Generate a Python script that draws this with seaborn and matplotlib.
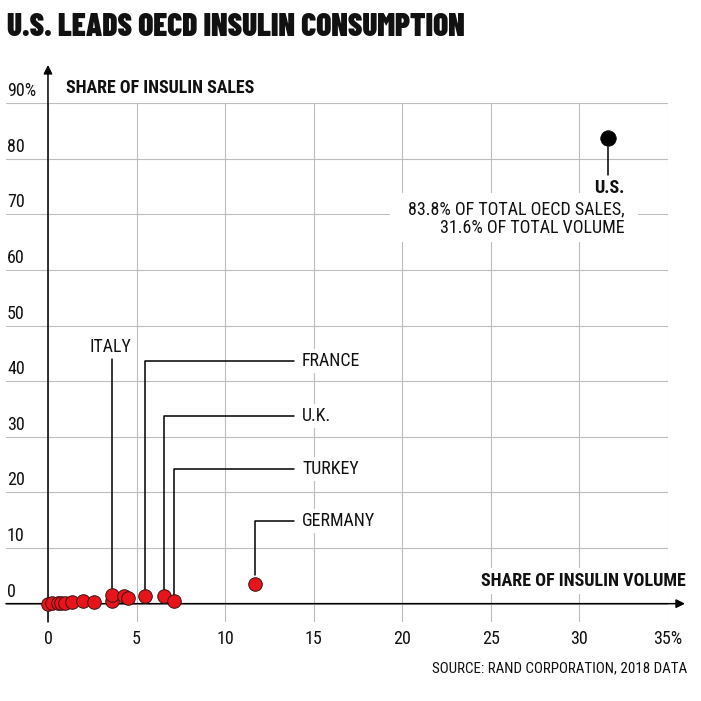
import matplotlib
matplotlib.use("Agg")
import matplotlib.pyplot as plt
from matplotlib.patches import Rectangle
import seaborn as sns
import pandas as pd

# share of OECD insulin volume (%) and share of sales (%) per country
volume = [0.0, 0.25, 0.55, 0.75, 0.95, 1.35, 2.0, 2.6, 3.6, 3.6, 4.3, 4.5, 5.5, 6.55, 7.1, 11.7]
sales = [0.0, 0.05, 0.1, 0.15, 0.2, 0.25, 0.4, 0.35, 0.4, 1.55, 1.3, 1.0, 1.3, 1.3, 0.5, 3.5]
us_volume = [31.6]
us_sales = [83.8]

labelled = ["ITALY", "FRANCE", "U.K.", "TURKEY", "GERMANY"]
labelled_idx = [9, 12, 13, 14, 15]

xticks = [0, 5, 10, 15, 20, 25, 30, 35]
xticklabels = ["0", "5", "10", "15", "20", "25", "30", "35%"]
yticks = [0, 10, 20, 30, 40, 50, 60, 70, 80, 90]
yticklabels = ["0", "10", "20", "30", "40", "50", "60", "70", "80", "90%"]

sns.set_theme(style="white")
plt.rcParams["font.family"] = ["Roboto Condensed", "DejaVu Sans"]

df = pd.DataFrame({"volume": volume, "sales": sales})
us = pd.DataFrame({"volume": us_volume, "sales": us_sales})

fig = plt.figure(figsize=(7.01, 7.01), dpi=100)
ax = fig.add_axes([6 / 701, 79 / 701, 662 / 701, 518.7 / 701])

ink = "#111111"
red = "#e8141b"
sns.scatterplot(data=df, x="volume", y="sales", color=red, s=95, edgecolor="#3a1212",
                linewidth=0.7, ax=ax, zorder=4, clip_on=False)
sns.scatterplot(data=us, x="volume", y="sales", color="black", s=125, edgecolor="black",
                linewidth=0.5, ax=ax, zorder=4, clip_on=False)

ax.set_xlim(-2.37, 35)
ax.set_ylim(-3.3, 90)
ax.set_xticks(xticks)
ax.set_xticklabels(xticklabels, fontsize=13, color=ink)
ax.set_yticks(yticks)
ax.tick_params(axis="x", length=0, pad=6)
ax.tick_params(axis="y", length=0, labelleft=False)
ax.grid(True, color="#bdbdbd", lw=0.8)
for s in ax.spines.values():
    s.set_visible(False)
ax.set_xlabel("")
ax.set_ylabel("")

for v, lab in zip(yticks, yticklabels):
    ax.annotate(lab, xy=(0, v), xycoords=("axes fraction", "data"), xytext=(1, 7),
                textcoords="offset pixels", ha="left", va="baseline", fontsize=13,
                color=ink, annotation_clip=False)

# axis arrows
arrow = dict(arrowstyle="-|>", color="black", lw=1.1, mutation_scale=13, shrinkA=0, shrinkB=0)
ax.annotate("", xy=(35.96, 0), xytext=(-2.37, 0), annotation_clip=False, zorder=3,
            arrowprops=arrow)
ax.annotate("", xy=(0, 96.9), xytext=(0, -3.3), annotation_clip=False, zorder=3,
            arrowprops=arrow)

ax.text(1.02, 92.8, "SHARE OF INSULIN SALES", fontsize=12.9, fontweight="bold", va="center",
        ha="left", color=ink)
ax.text(36.0, 4.1, "SHARE OF INSULIN VOLUME", fontsize=13, fontweight="bold", va="center",
        ha="right", color=ink, zorder=3,
        bbox=dict(facecolor="white", edgecolor="none", pad=3))
ax.text(36.1, -11.6, "SOURCE: RAND CORPORATION, 2018 DATA", fontsize=10.8, va="center",
        ha="right", color=ink)

# leader lines for the labelled countries
line_top = [44.0, 43.6, 33.7, 24.2, 14.9]
text_x = 14.34
line_end = 13.9
for name, i, top in zip(labelled, labelled_idx, line_top):
    px, py = volume[i], sales[i]
    if name == "ITALY":
        ax.plot([px, px], [py + 1.0, top], color="black", lw=1.1, zorder=3)
        ax.text(3.5, 46.2, name, fontsize=12.9, ha="center", va="center", color=ink)
    else:
        gap = 1.6 if name == "GERMANY" else 1.0
        ax.plot([px, px, line_end], [py + gap, top, top], color="black", lw=1.1, zorder=3)
        ax.text(text_x, top, name, fontsize=12.9, ha="left", va="center", color=ink,
                bbox=dict(facecolor="white", edgecolor="none", pad=2))

# U.S. callout, white mask behind the text block hides the grid
ax.add_patch(Rectangle((19.3, 65.1), 14.0, 8.8, facecolor="white", edgecolor="none", zorder=2.5))
ax.plot([us_volume[0], us_volume[0]], [82.2, 77.1], color="black", lw=1.1, zorder=3)
ax.text(32.57, 74.7, "U.S.", fontsize=13, fontweight="bold", ha="right", va="center",
        color=ink, zorder=6)
ax.text(32.57, 69.3, "83.8% OF TOTAL OECD SALES,\n31.6% OF TOTAL VOLUME", fontsize=13,
        ha="right", va="center", color=ink, linespacing=1.05, zorder=5)

fig.text(7 / 701, 1 - 27 / 701, "U.S. LEADS OECD INSULIN CONSUMPTION", fontsize=22.5,
         family=["Barlow Condensed", "DejaVu Sans"], fontweight="black", va="center",
         ha="left", color=ink)

fig.savefig("out.png", dpi=100)
